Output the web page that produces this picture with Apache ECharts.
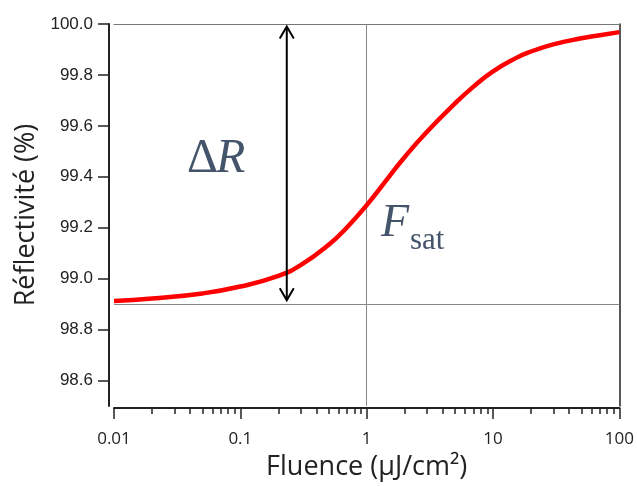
<!DOCTYPE html>
<html><head><meta charset="utf-8">
<script src="https://cdn.jsdelivr.net/npm/echarts@6/dist/echarts.min.js"></script>
<style>html,body{margin:0;padding:0;background:#fff}#c{width:637px;height:486px}</style>
</head><body><div id="c"></div>
<script>
// ---- data ----
const fluence = [0.01, 0.02, 0.05, 0.1, 0.2, 0.3, 0.5, 0.7, 1, 1.5, 2, 3, 5, 7, 10, 15, 20, 30, 50, 70, 100];
const reflectivity = [98.912, 98.922, 98.942, 98.969, 99.011, 99.053, 99.133, 99.202, 99.289, 99.400, 99.478, 99.577, 99.688, 99.754, 99.814, 99.865, 99.892, 99.920, 99.944, 99.956, 99.968];
const yTickValues = [98.6, 98.8, 99.0, 99.2, 99.4, 99.6, 99.8, 100.0];
const xMajorTicks = [0.01, 0.1, 1, 10, 100];
const xTickLabels = ['0.01', '0.1', '1', '10', '100'];
const xMinorTicks = [0.02,0.03,0.04,0.05,0.06,0.07,0.08,0.09,
                     0.2,0.3,0.4,0.5,0.6,0.7,0.8,0.9,
                     2,3,4,5,6,7,8,9,
                     20,30,40,50,60,70,80,90];
const refLevel = 98.9;      // horizontal guide
const fsatValue = 1;        // vertical guide
const arrowX = 0.233, arrowTop = 99.99, arrowBottom = 98.915;

const chart = echarts.init(document.getElementById('c'), null, {renderer: 'canvas'});
const axisColor = '#222';
const option = {
  animation: false,
  backgroundColor: '#fff',
  grid: {left: 114, right: 17, top: 24, bottom: 80},
  xAxis: [
    {
      type: 'log', logBase: 10, min: 0.01, max: 100, position: 'bottom', offset: 2,
      axisLine: {lineStyle: {color: axisColor, width: 2}},
      axisTick: {customValues: xMajorTicks, length: 11, lineStyle: {color: axisColor, width: 1.5}},
      axisLabel: {customValues: xMajorTicks, margin: 23, fontFamily: 'Open Sans', fontSize: 17, color: axisColor,
        formatter: v => { let b = 0; xMajorTicks.forEach((t, i) => { if (Math.abs(Math.log10(t) - Math.log10(v)) < 1e-6) b = i; }); return xTickLabels[b]; }},
      splitLine: {show: false},
      name: 'Fluence (µJ/cm²)', nameLocation: 'middle', nameGap: 46,
      nameTextStyle: {fontFamily: 'Open Sans', fontSize: 27, color: axisColor}
    },
    {
      type: 'log', logBase: 10, min: 0.01, max: 100, position: 'bottom', offset: 2,
      axisLine: {show: false},
      axisTick: {customValues: xMinorTicks, length: 6, lineStyle: {color: axisColor, width: 1.5}},
      axisLabel: {show: false}, splitLine: {show: false}
    },
    {
      type: 'log', logBase: 10, min: 0.01, max: 100, position: 'top',
      axisLine: {lineStyle: {color: '#777', width: 1}},
      axisTick: {show: false}, axisLabel: {show: false}, splitLine: {show: false}
    }
  ],
  yAxis: [
    {
      type: 'value', min: 98.5, max: 100, position: 'left', offset: 5,
      axisLine: {show: true, lineStyle: {color: axisColor, width: 2}},
      axisTick: {show: true, customValues: yTickValues, length: 11, lineStyle: {color: axisColor, width: 1.5}},
      axisLabel: {customValues: yTickValues, margin: 16, fontFamily: 'Liberation Sans', fontSize: 17, color: axisColor,
        formatter: v => Number(v).toFixed(1)},
      splitLine: {show: false},
      name: 'Réflectivité (%)', nameLocation: 'middle', nameGap: 67,
      nameTextStyle: {fontFamily: 'Open Sans', fontSize: 27, color: axisColor}
    },
    {
      type: 'value', min: 98.5, max: 100, position: 'right',
      axisLine: {show: true, lineStyle: {color: axisColor, width: 1.5}},
      axisTick: {show: false}, axisLabel: {show: false}, splitLine: {show: false}
    }
  ],
  series: [{
    type: 'line', xAxisIndex: 0, yAxisIndex: 0,
    data: fluence.map((f, i) => [f, reflectivity[i]]),
    smooth: 0.5, showSymbol: false, symbol: 'none',
    lineStyle: {color: '#ff0000', width: 4.5},
    markLine: {
      silent: true, symbol: ['none', 'none'], z: 1,
      label: {show: false},
      lineStyle: {color: '#888', width: 1, type: 'solid'},
      emphasis: {disabled: true},
      data: [{yAxis: refLevel}, {xAxis: fsatValue}]
    }
  }]
};
chart.setOption(option);

// annotations anchored to data coordinates
const pTop = chart.convertToPixel({xAxisIndex: 0, yAxisIndex: 0}, [arrowX, arrowTop]);
const pBot = chart.convertToPixel({xAxisIndex: 0, yAxisIndex: 0}, [arrowX, arrowBottom]);
const ax = pTop[0];
const headW = 7, headH = 12;
const blk = '#000';
const txtColor = '#44546A';
chart.setOption({
  graphic: [
    {type: 'line', shape: {x1: ax, y1: pTop[1] + 1, x2: ax, y2: pBot[1] - 1}, style: {stroke: blk, lineWidth: 2}, z: 100},
    {type: 'polyline', shape: {points: [[ax - headW, pTop[1] + headH], [ax, pTop[1]], [ax + headW, pTop[1] + headH]]}, style: {stroke: blk, lineWidth: 2, fill: null}, z: 100},
    {type: 'polyline', shape: {points: [[ax - headW, pBot[1] - headH], [ax, pBot[1]], [ax + headW, pBot[1] - headH]]}, style: {stroke: blk, lineWidth: 2, fill: null}, z: 100},
    {type: 'text', x: 187, y: 159, style: {text: 'Δ', font: '48px "Liberation Serif"', fill: txtColor, textAlign: 'left', textVerticalAlign: 'middle'}, z: 100},
    {type: 'text', x: 216, y: 159, style: {text: 'R', font: 'italic 48px "Liberation Serif"', fill: txtColor, textAlign: 'left', textVerticalAlign: 'middle'}, z: 100},
    {type: 'text', x: 381, y: 224, style: {text: 'F', font: 'italic 46px "Liberation Serif"', fill: txtColor, textAlign: 'left', textVerticalAlign: 'middle'}, z: 100},
    {type: 'text', x: 410, y: 241, style: {text: 'sat', font: '31px "Liberation Serif"', fill: txtColor, textAlign: 'left', textVerticalAlign: 'middle'}, z: 100}
  ]
});
</script>
</body></html>
